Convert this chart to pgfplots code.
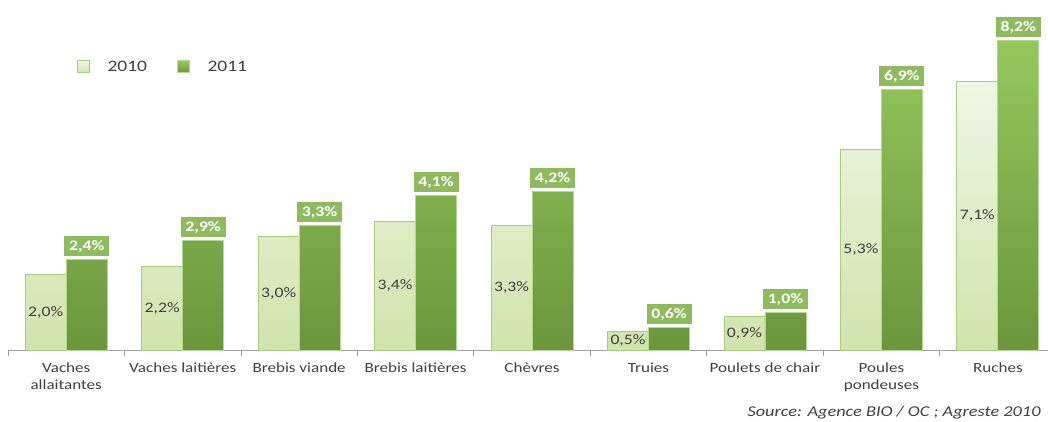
\documentclass[border=0pt]{standalone}
\usepackage{pgfplots}
\pgfplotsset{compat=1.18}
\usepackage{fontspec}
\setmainfont{Carlito}[FakeStretch=1.22]

\definecolor{lightTop}{HTML}{F0F6E4}
\definecolor{lightBot}{HTML}{D0E4AC}
\definecolor{lightDraw}{HTML}{A6CE7B}
\definecolor{darkTop}{HTML}{94C85C}
\definecolor{darkBot}{HTML}{6B963C}
\definecolor{darkDraw}{HTML}{B3D88E}
\definecolor{boxGreen}{HTML}{8DBB5E}
\definecolor{axisGray}{HTML}{A0A0A0}
\definecolor{txt}{HTML}{404040}

\begin{document}
\begin{tikzpicture}
\useasboundingbox (0,0) rectangle (1048pt,421pt);
\begin{axis}[
	at={(8pt,71pt)}, anchor=south west,
	scale only axis, width=1040pt, height=350pt,
	xmin=-0.5, xmax=8.43, ymin=0, ymax=9.26,
	axis x line*=bottom, axis y line=none,
	x axis line style={draw=axisGray, line width=0.8pt, -},
	xtick={0,...,8},
	xticklabels={Vaches\\allaitantes, Vaches laitières, Brebis viande, Brebis laitières, Chèvres, Truies, Poulets de chair, Poules\\pondeuses, Ruches},
	major tick length=0pt,
	minor xtick={-0.5,0.5,...,7.5},
	minor tick length=6pt,
	tick align=outside,
	every minor tick/.style={draw=axisGray, line width=0.8pt},
	xticklabel style={align=center, text=txt, font=\fontsize{14}{17.5}\selectfont, anchor=north, yshift=-9pt},
	ybar=0pt, bar width=41pt,
	clip=false,
	/pgf/number format/assume math mode=true,
	legend columns=2,
	legend style={at={(0.0663,0.809)}, anchor=west, draw=none, fill=none,
		font=\fontsize{16}{18}\selectfont, text=txt, inner sep=0pt,
		/tikz/every even column/.append style={column sep=28pt}},
]
\addplot[draw=lightDraw, line width=0.8pt, top color=lightTop, bottom color=lightBot,
	visualization depends on={y \as \rawy},
	nodes near coords={\pgfmathprintnumber[fixed,fixed zerofill,precision=1,use comma]{\pgfplotspointmeta}\%},
	every node near coord/.append style={anchor=center, text=txt, font=\fontsize{14.5}{16}\selectfont,
		shift={(axis direction cs:0,-\rawy/2)}},
	legend image code/.code={\path[draw=none, fill=none] (0pt,0pt) (28pt,0pt);
		\filldraw[draw=lightDraw, top color=lightTop, bottom color=lightBot] (0pt,-6pt) rectangle (12pt,6pt);}]
coordinates {(0,2.0) (1,2.2) (2,3.0) (3,3.4) (4,3.3) (5,0.5) (6,0.9) (7,5.3) (8,7.1)};
\addlegendentry{2010}
\addplot[draw=darkDraw, line width=0.8pt, top color=darkTop, bottom color=darkBot,
	nodes near coords={\pgfmathprintnumber[fixed,fixed zerofill,precision=1,use comma]{\pgfplotspointmeta}\%},
	every node near coord/.append style={anchor=south, fill=boxGreen, draw=white, line width=1pt,
		text=white, font=\fontsize{14.5}{16}\selectfont\bfseries,
		minimum width=46pt, minimum height=21pt, inner sep=0pt, yshift=2pt},
	legend image code/.code={\path[draw=none, fill=none] (0pt,0pt) (28pt,0pt);
		\filldraw[draw=darkDraw, top color=darkTop, bottom color=darkBot] (0pt,-6pt) rectangle (12pt,6pt);}]
coordinates {(0,2.4) (1,2.9) (2,3.3) (3,4.1) (4,4.2) (5,0.6) (6,1.0) (7,6.9) (8,8.2)};
\addlegendentry{2011}
\end{axis}
\node[anchor=east, text=txt, font=\fontsize{15}{17}\selectfont\itshape] at (1044pt,8pt)
	{Source: Agence BIO / OC ; Agreste 2010};
\end{tikzpicture}
\end{document}
